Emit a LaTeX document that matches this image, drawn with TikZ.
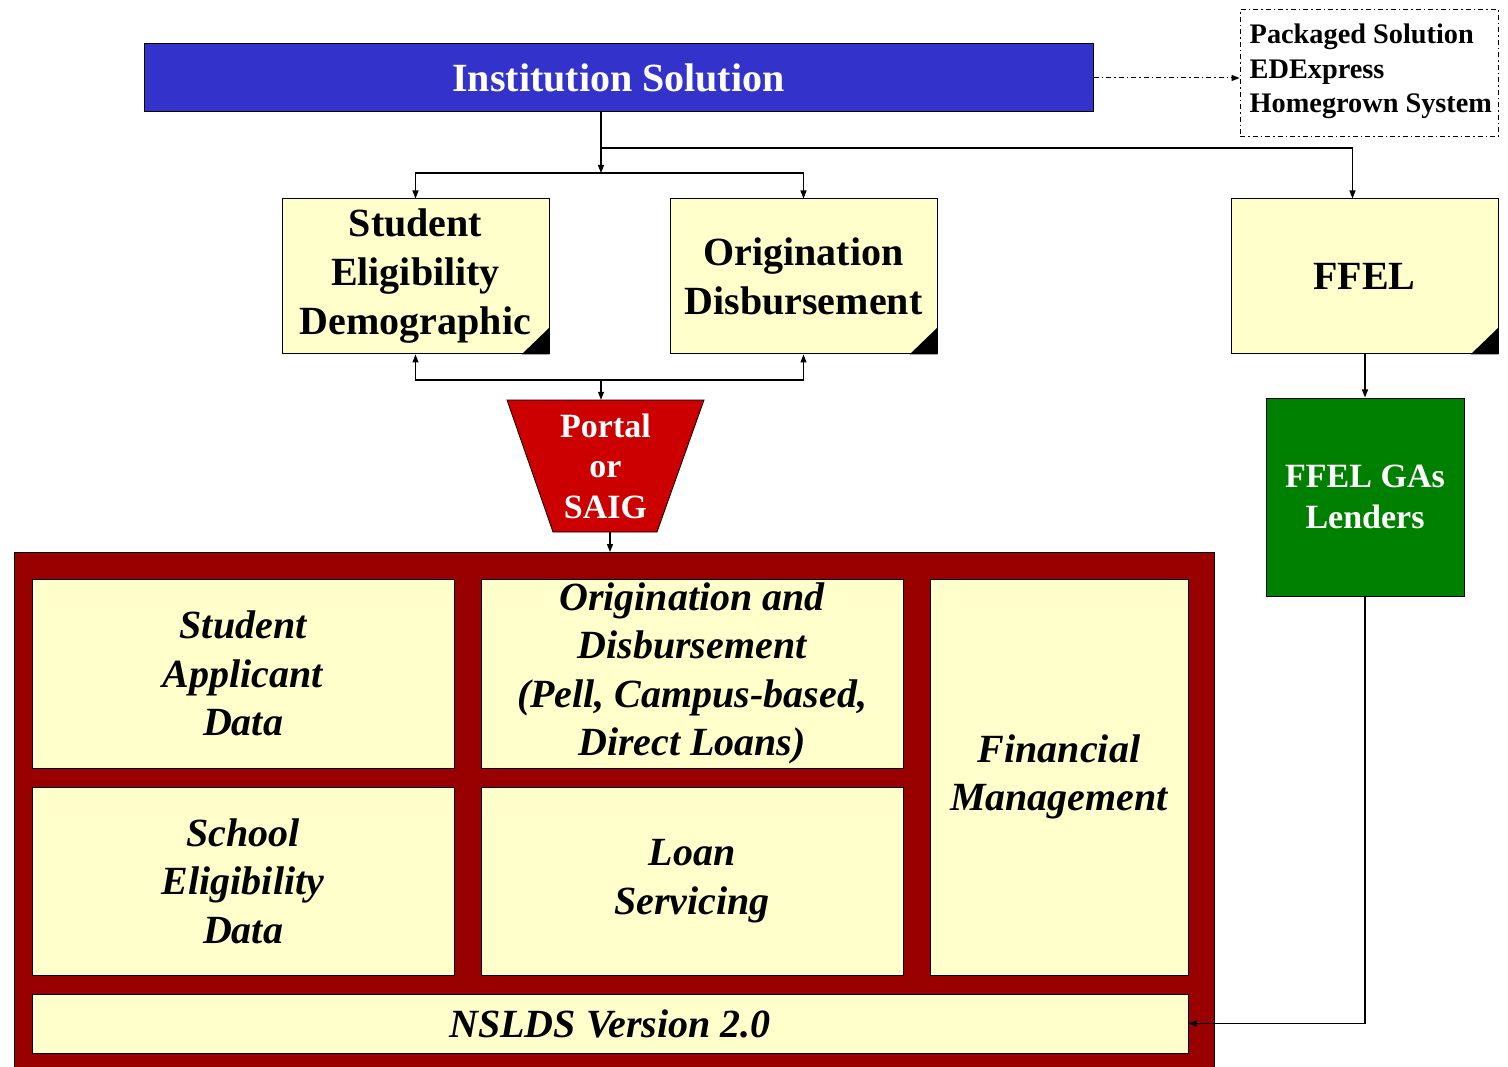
\documentclass[tikz,border=0pt]{standalone}
\usepackage{fontspec}
\setmainfont{Liberation Serif}
\usetikzlibrary{arrows.meta,calc}
\definecolor{instblue}{RGB}{51,51,204}
\definecolor{paleyel}{RGB}{255,255,204}
\definecolor{portred}{RGB}{204,0,0}
\definecolor{maroon}{RGB}{153,0,0}
\definecolor{ffgreen}{RGB}{0,128,0}
\tikzset{
  arr/.style={draw=black,line width=1.2pt,-{Triangle[length=8pt,width=6pt]}},
  plain/.style={draw=black,line width=1.2pt},
  dashdot/.style={line width=1pt,dash pattern=on 5pt off 3pt on 1.5pt off 3pt},
  ybox/.style={draw=black,line width=1pt,fill=paleyel,align=center,inner sep=0pt,
     font=\fontsize{40}{49}\selectfont\bfseries},
  cell/.style={draw=black,line width=1pt,fill=paleyel,align=center,inner sep=0pt,
     font=\fontsize{40}{48.5}\selectfont\bfseries\itshape},
  fold/.style={fill=black},
}
\begin{document}
\begin{tikzpicture}[x=1pt,y=-1pt]
\useasboundingbox[fill=white] (0,0) rectangle (1508,1067);

% top institution box
\node[draw=black,line width=1pt,fill=instblue,text=white,minimum width=949pt,minimum height=68pt,inner sep=0pt,
  font=\fontsize{40}{48}\selectfont\bfseries] (inst) at (618.5,78) {Institution Solution};

% options box
\node[draw=black,dashdot,minimum width=258pt,minimum height=127pt,inner sep=0pt] (opts) at (1369,73.5) {};
\node[align=left,inner sep=0pt,anchor=west,font=\fontsize{28.3}{34.5}\selectfont\bfseries] (optstext)
  at ($(opts.west)+(10,-2)$) {Packaged Solution\\EDExpress\\Homegrown System};
\draw[dashdot,-{Triangle[length=8pt,width=6pt]}] (inst.east) -- (inst.east -| opts.west);

% middle boxes
\node[ybox,minimum width=267pt,minimum height=155pt] (seb) at (415.5,276.5) {Student\\Eligibility\\Demographic};
\node[ybox,minimum width=267pt,minimum height=155pt] (odb) at (803.5,276.5) {Origination\\Disbursement};
\node[ybox,minimum width=267pt,minimum height=155pt] (ffel) at (1364.5,276.5) {FFEL};
\foreach \b in {seb,odb,ffel}{
  \fill[fold] ($(\b.south east)+(-28,0)$) -- ($(\b.south east)+(0,-27)$) -- (\b.south east) -- cycle;
}

% connectors from institution
\coordinate (j1) at (601,148);
\coordinate (j2) at (601,173);
\coordinate (j3) at (601,380);
\draw[plain] (inst.south -| j1) -- (j1);
\draw[arr] (j1) -- (j2);
\draw[arr] (j1) -| ($(ffel.north)+(-12,0)$);
\draw[arr] (j2) -| (seb.north);
\draw[arr] (j2) -| (odb.north);

% portal
\fill[portred,draw=black,line width=0.8pt] (507,400) -- (704,400) -- (657,532) -- (553,532) -- cycle;
\node[minimum width=197pt,minimum height=132pt,inner sep=0pt,text=white,align=center,
  font=\fontsize{34}{40.5}\selectfont\bfseries] (portal) at (605.5,466) {Portal\\or\\SAIG};
\draw[arr] (j3) -| (seb.south);
\draw[arr] (j3) -| (odb.south);
\draw[arr] (j3) -- (portal.north -| j3);

% green box
\node[draw=black,line width=1pt,fill=ffgreen,text=white,minimum width=198pt,minimum height=198pt,inner sep=0pt,
  align=center,font=\fontsize{34}{41}\selectfont\bfseries] (gas) at (1365,497) {FFEL GAs\\Lenders};
\draw[arr] (ffel.south -| gas.north) -- (gas.north);

% NSLDS frame
\node[draw=black,line width=1pt,fill=maroon,minimum width=1200pt,minimum height=520pt,inner sep=0pt,anchor=north west]
  (frame) at (14,552) {};
\node[cell,minimum width=422pt,minimum height=189pt] (sad) at (243,673.5) {Student\\Applicant\\Data};
\node[cell,minimum width=422pt,minimum height=189pt] (ood) at (692,673.5) {Origination and\\Disbursement\\(Pell, Campus-based,\\Direct Loans)};
\node[cell,minimum width=258pt,minimum height=396pt] (fm) at (1059,777) {Financial\\Management};
\node[cell,minimum width=422pt,minimum height=188pt] (sed) at (243,881) {School\\Eligibility\\Data};
\node[cell,minimum width=422pt,minimum height=188pt] (ls) at (692,881) {Loan\\Servicing};
\node[cell,minimum width=1156pt,minimum height=59pt] (nsl) at (610,1023.5) {NSLDS Version 2.0};

\draw[arr] (portal.south -| 610,0) -- (frame.north -| 610,0);
\draw[arr] (gas.south) |- (nsl.east);
\end{tikzpicture}
\end{document}
